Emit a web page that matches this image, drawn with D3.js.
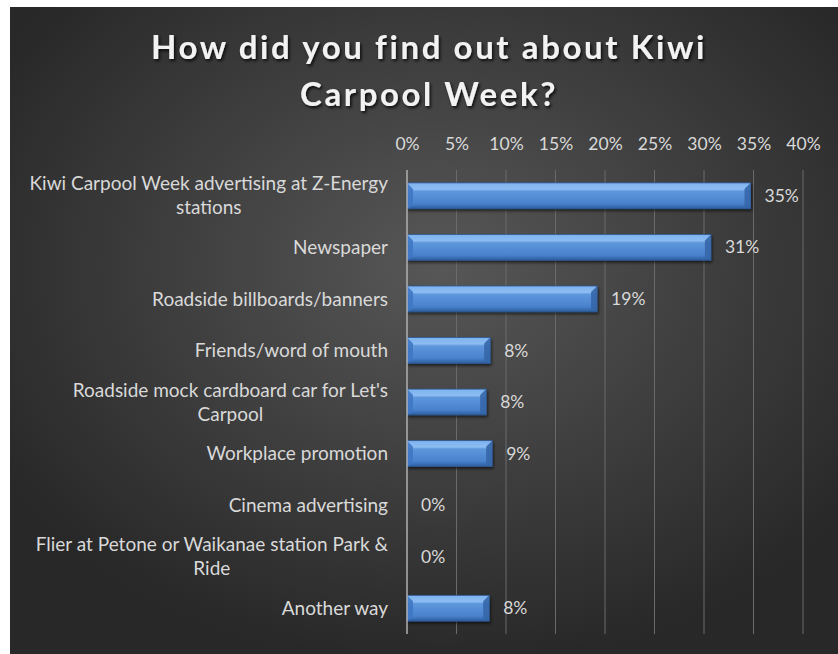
<!DOCTYPE html>
<html>
<head>
<meta charset="utf-8">
<script src="https://cdn.jsdelivr.net/npm/d3@7"></script>
<style>
  body { margin: 0; background: #fff; }
  svg { display: block; }
</style>
</head>
<body>
<svg id="chart" width="838" height="654"></svg>
<script>
// data
const titleLines = ["How did you find out about Kiwi", "Carpool Week?"];
const categories = [
  ["Kiwi Carpool Week advertising at Z-Energy", "stations"],
  ["Newspaper"],
  ["Roadside billboards/banners"],
  ["Friends/word of mouth"],
  ["Roadside mock cardboard car for Let's", "Carpool"],
  ["Workplace promotion"],
  ["Cinema advertising"],
  ["Flier at Petone or Waikanae station Park &", "Ride"],
  ["Another way"]
];
const values = [34.7, 30.7, 19.2, 8.4, 8.0, 8.6, 0, 0, 8.3];
const ticks = [0, 5, 10, 15, 20, 25, 30, 35, 40];

const font = "Lato, 'Open Sans', sans-serif";
const svg = d3.select("#chart");
const defs = svg.append("defs");

let bg = defs.append("radialGradient").attr("id", "bg")
  .attr("cx", "52%").attr("cy", "40%").attr("r", "62%");
bg.append("stop").attr("offset", "0%").attr("stop-color", "#575757");
bg.append("stop").attr("offset", "100%").attr("stop-color", "#282828");

let bar = defs.append("linearGradient").attr("id", "bar")
  .attr("x1", 0).attr("y1", 0).attr("x2", 0).attr("y2", 1);
bar.append("stop").attr("offset", "0%").attr("stop-color", "#7fb2ee");
bar.append("stop").attr("offset", "25%").attr("stop-color", "#8cbcf2");
bar.append("stop").attr("offset", "32%").attr("stop-color", "#5e97dc");
bar.append("stop").attr("offset", "80%").attr("stop-color", "#4a82cc");
bar.append("stop").attr("offset", "100%").attr("stop-color", "#2c5d9f");

let shadow = defs.append("filter").attr("id", "tshadow")
  .attr("x", "-10%").attr("y", "-30%").attr("width", "120%").attr("height", "160%");
shadow.append("feDropShadow").attr("dx", 1.5).attr("dy", 2).attr("stdDeviation", 1.5)
  .attr("flood-color", "#000").attr("flood-opacity", 0.8);

let barShadow = defs.append("filter").attr("id", "bshadow")
  .attr("x", "-5%").attr("y", "-30%").attr("width", "110%").attr("height", "170%");
barShadow.append("feDropShadow").attr("dx", 1).attr("dy", 2).attr("stdDeviation", 1.5)
  .attr("flood-color", "#000").attr("flood-opacity", 0.6);

svg.append("rect").attr("x", 10).attr("y", 7).attr("width", 828).attr("height", 647)
  .attr("fill", "url(#bg)");

// title
svg.append("g").selectAll("text").data(titleLines).join("text")
  .attr("x", 429)
  .attr("y", (d, i) => 59 + i * 47)
  .attr("text-anchor", "middle")
  .attr("fill", "#f2f2f2")
  .attr("font-family", font)
  .attr("font-weight", "bold")
  .attr("font-size", 33)
  .attr("letter-spacing", 2.6)
  .attr("filter", "url(#tshadow)")
  .text(d => d);

const x = d3.scaleLinear().domain([0, 40]).range([407, 803]);
const y = d3.scaleBand().domain(d3.range(categories.length)).range([170, 634]).paddingInner(0.5).paddingOuter(0.25);

// gridlines
svg.append("g").selectAll("line").data(ticks.slice(1)).join("line")
  .attr("x1", d => x(d)).attr("x2", d => x(d))
  .attr("y1", 170).attr("y2", 634)
  .attr("stroke", "#6a6a6a").attr("stroke-width", 1);

// top axis labels
const xAxis = svg.append("g").attr("transform", "translate(0,150)")
  .call(d3.axisTop(x).tickValues(ticks).tickFormat(d => d + "%").tickSize(0).tickPadding(0));
xAxis.select(".domain").remove();
xAxis.selectAll("text")
  .attr("fill", "#d9d9d9")
  .attr("font-family", font)
  .attr("font-size", 17.5);

// bars
const barData = values.map((v, i) => ({ v, i })).filter(d => d.v > 0);
const bars = svg.append("g").selectAll("g").data(barData).join("g")
  .attr("filter", "url(#bshadow)");
bars.append("rect")
  .attr("x", x(0))
  .attr("y", d => y(d.i))
  .attr("width", d => x(d.v) - x(0))
  .attr("height", y.bandwidth())
  .attr("fill", "url(#bar)")
  .attr("stroke", "#2d5a96").attr("stroke-width", 0.8);
// bevel edges
bars.append("path")
  .attr("d", d => {
    const x0 = x(0), t = y(d.i), b = t + y.bandwidth(), s = 6;
    return `M${x0},${t}L${x0 + s},${t + s}L${x0 + s},${b - 3}L${x0},${b}Z`;
  })
  .attr("fill", "#3f78c4").attr("opacity", 0.9);
bars.append("path")
  .attr("d", d => {
    const x1 = x(d.v), t = y(d.i), b = t + y.bandwidth(), s = 6;
    return `M${x1},${t}L${x1 - s},${t + s}L${x1 - s},${b - 3}L${x1},${b}Z`;
  })
  .attr("fill", "#3566a8").attr("opacity", 0.9);

// axis line at 0
svg.append("line").attr("x1", x(0)).attr("x2", x(0)).attr("y1", 170).attr("y2", 634)
  .attr("stroke", "#b0b0b0").attr("stroke-width", 1.5);

// value labels
svg.append("g").selectAll("text").data(values).join("text")
  .attr("x", d => x(d) + 14)
  .attr("y", (d, i) => y(i) + y.bandwidth() / 2)
  .attr("dy", "0.35em")
  .attr("fill", "#d9d9d9")
  .attr("font-family", font)
  .attr("font-size", 17.5)
  .text(d => Math.round(d) + "%");

// category labels
const labelRight = 388;
const lineH = 24;
categories.forEach((lines, i) => {
  const cy = y(i) + y.bandwidth() / 2;
  const g = svg.append("g");
  const texts = g.selectAll("text").data(lines).join("text")
    .attr("y", (d, j) => cy + (j - (lines.length - 1) / 2) * lineH)
    .attr("dy", "0.35em")
    .attr("fill", "#d9d9d9")
    .attr("font-family", font)
    .attr("font-size", 19)
    .text(d => d);
  const maxW = d3.max(texts.nodes(), n => n.getComputedTextLength());
  texts.attr("x", labelRight - maxW / 2)
    .attr("text-anchor", "middle");
});
</script>
</body>
</html>
